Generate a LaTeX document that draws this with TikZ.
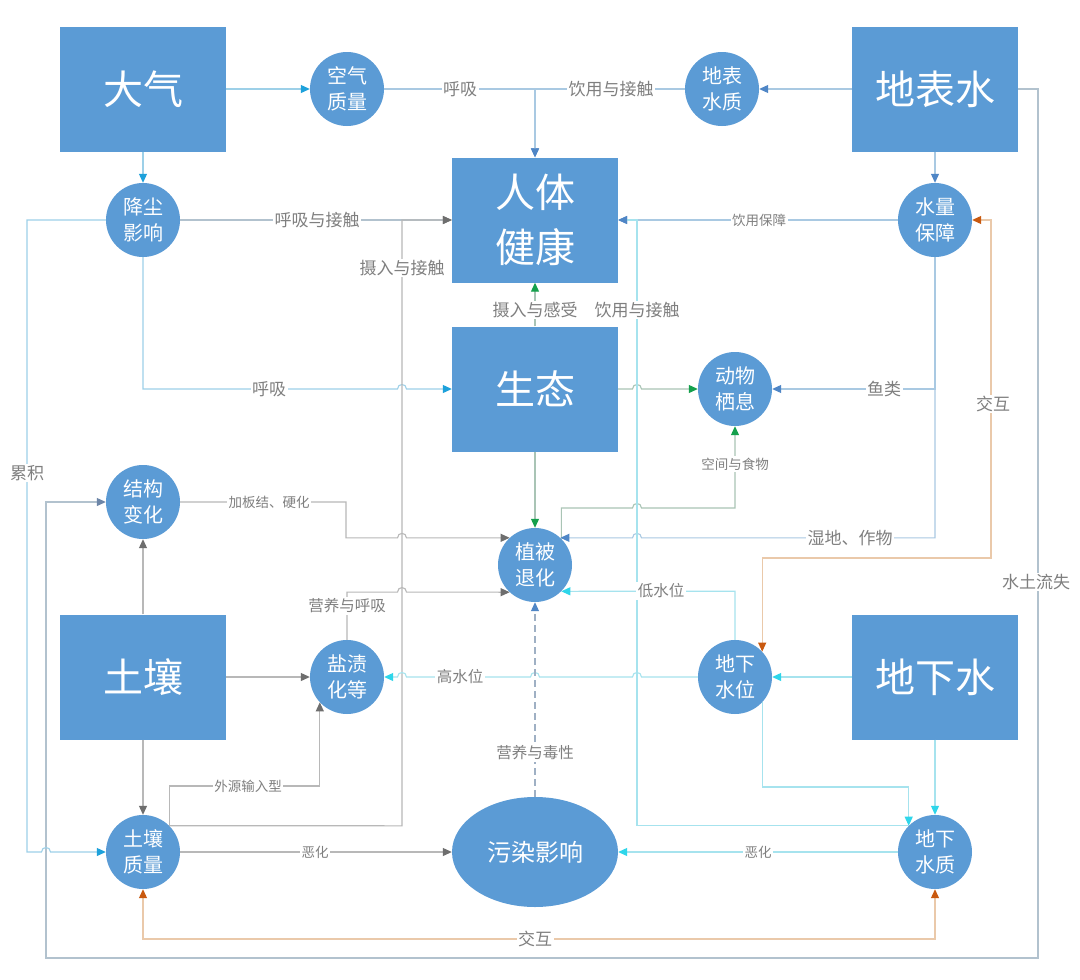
\documentclass[tikz,border=0pt]{standalone}
\usepackage{fontspec}
\setmainfont{Noto Sans CJK SC}
\usetikzlibrary{arrows.meta,shapes.geometric}
\definecolor{nodeblue}{HTML}{5B9BD5}
\definecolor{labgray}{HTML}{7F7F7F}
\definecolor{lnBright}{HTML}{9DD0E8}
\definecolor{lnSteel}{HTML}{A9C9E2}
\definecolor{lnPale}{HTML}{B2C2CE}
\definecolor{lnGray}{HTML}{B8B8B8}
\definecolor{lnGreen}{HTML}{A9C4B5}
\definecolor{lnCyan}{HTML}{A6E3EE}
\definecolor{lnOrange}{HTML}{EAC9AA}
\definecolor{lnDash}{HTML}{9FB0C4}
\definecolor{tipBright}{HTML}{1DA1DB}
\definecolor{tipSteel}{HTML}{4F86C6}
\definecolor{tipGray}{HTML}{6E6E6E}
\definecolor{tipGreen}{HTML}{14A04C}
\definecolor{tipCyan}{HTML}{2ED6EA}
\definecolor{tipOrange}{HTML}{C9590F}
\definecolor{tipSlate}{HTML}{6D86A8}
\begin{document}
\begin{tikzpicture}[x=1pt,y=-1pt,
  box/.style={rectangle, fill=nodeblue, text=white, minimum width=166pt, minimum height=125pt, inner sep=0pt, align=center, font=\fontsize{40}{55}\selectfont},
  circ/.style={circle, fill=nodeblue, text=white, minimum size=74pt, inner sep=0pt, align=center, font=\fontsize{20}{26}\selectfont},
  lab/.style={fill=white, text=labgray, inner sep=1.5pt, font=\fontsize{17}{20}\selectfont},
  labm/.style={lab, font=\fontsize{15.5}{18}\selectfont},
  labs/.style={lab, font=\fontsize{13.5}{16}\selectfont},
  conn/.style={line width=1.1pt},
  aBright/.style={conn, draw=lnBright, -{Triangle[length=9pt,width=8pt,color=tipBright]}},
  aSteel/.style={conn, draw=lnSteel, -{Triangle[length=9pt,width=8pt,color=tipSteel]}},
  aPale/.style={conn, draw=lnPale, -{Triangle[length=9pt,width=8pt,color=tipGray]}},
  aGray/.style={conn, draw=lnGray, -{Triangle[length=9pt,width=8pt,color=tipGray]}},
  aGreen/.style={conn, draw=lnGreen, -{Triangle[length=9pt,width=8pt,color=tipGreen]}},
  aCyan/.style={conn, draw=lnCyan, -{Triangle[length=9pt,width=8pt,color=tipCyan]}},
  aSlate/.style={conn, draw=lnPale, -{Triangle[length=9pt,width=8pt,color=tipSlate]}},
  aOrange/.style={conn, draw=lnOrange, {Triangle[length=9pt,width=8pt,color=tipOrange]}-{Triangle[length=9pt,width=8pt,color=tipOrange]}},
  hopR/.style 2 args={insert path={-- (#1-4.5,#2) .. controls (#1-4.5,#2-6) and (#1+4.5,#2-6) .. (#1+4.5,#2)}},
  hopL/.style 2 args={insert path={-- (#1+4.5,#2) .. controls (#1+4.5,#2-6) and (#1-4.5,#2-6) .. (#1-4.5,#2)}}
]
\fill[white] (0,0) rectangle (1080,980);
\useasboundingbox (0,0) rectangle (1080,980);

% ---------- nodes ----------
\node[box] (dq) at (143,89) {大气};
\node[circ] (kq) at (347,89) {空气\\质量};
\node[circ] (dbsz) at (722,89) {地表\\水质};
\node[box] (dbs) at (935,89) {地表水};
\node[circ] (jc) at (143,220) {降尘\\影响};
\node[box] (rt) at (535,220) {人体\\健康};
\node[circ] (slbz) at (935,220) {水量\\保障};
\node[box] (st) at (535,389) {生态};
\node[circ] (dw) at (735,389) {动物\\栖息};
\node[circ] (jg) at (143,502) {结构\\变化};
\node[circ] (zb) at (535,565) {植被\\退化};
\node[box] (tr) at (143,677) {土壤};
\node[circ] (yz) at (347,677) {盐渍\\化等};
\node[circ] (dxsw) at (735,677) {地下\\水位};
\node[box] (dxs) at (935,677) {地下水};
\node[circ] (trzl) at (143,852) {土壤\\质量};
\node[ellipse, fill=nodeblue, text=white, minimum width=166pt, minimum height=110pt, inner sep=0pt, font=\fontsize{24}{28}\selectfont] (wr) at (535,852) {污染影响};
\node[circ] (dxsz) at (935,852) {地下\\水质};

% ---------- connectors ----------
% outer loop: soil and water loss
\draw[aSlate] (dbs.east) -- (1038,89) -- (1038,958) -- (46,958) -- (46,502) -- (jg.west);
% atmosphere
\draw[aBright] (dq.east) -- (kq.west);
\draw[aBright] (dq.south) -- (jc.north);
\draw[aSteel] (kq.east) -- (535,89) -- (rt.north);
\draw[aSteel] (dbsz.west) -- (535,89) -- (rt.north);
\draw[aSteel] (dbs.west) -- (dbsz.east);
\draw[aSteel] (dbs.south) -- (slbz.north);
\draw[aPale] (jc.east) -- (rt.west);
\draw[aSteel] (slbz.west) -- (rt.east);
\draw[aBright] (jc.south) -- (143,389) [hopR={402}{389}] -- (st.west);
\draw[aBright] (jc.west) -- (27,220) -- (27,852) [hopR={46}{852}] -- (trzl.west);
% soil
\draw[aGray] (trzl.45) -- (402,825.8) -- (402,220) -- (rt.west);
\draw[aGray] (trzl.45) -- (trzl.45 |- 0,786) -| (yz.223);
\draw[aGray] (trzl.east) -- (wr.west);
\draw[aGray] (tr.east) -- (yz.west);
\draw[aGray] (tr.north) -- (jg.south);
\draw[aGray] (tr.south) -- (trzl.north);
\draw[aGray] (jg.east) -- (346,502) -- (346,537.9) [hopR={402}{537.9}] -- (zb.133);
\draw[aGray] (yz.north) -- (347,592.1) [hopR={402}{592.1}] -- (zb.227);
% ecology
\draw[aGreen] (st.north) -- (rt.south);
\draw[aGreen] (st.south) -- (zb.north);
\draw[aGreen] (st.east) [hopR={637}{389}] -- (dw.west);
\draw[aGreen] (zb.45) -- (zb.45 |- 0,508) [hopR={637}{508}] -- (735,508) -- (dw.south);
% surface water quantity
\draw[aSteel] (slbz.south) -- (935,389) -- (dw.east);
\draw[aSteel] (slbz.south) -- (935,537.9) [hopL={637}{537.9}] -- (zb.47);
\draw[aOrange] (slbz.east) -- (991,220) -- (991,558) -| (dxsw.43);
% groundwater
\draw[aCyan] (dxs.west) -- (dxsw.east);
\draw[aCyan] (dxs.south) -- (dxsz.north);
\draw[aCyan] (dxsw.west) [hopL={637}{677}] [hopL={535}{677}] [hopL={402}{677}] -- (yz.east);
\draw[aCyan] (dxsw.north) -- (735,591.2) -- (zb.-45);
\draw[aCyan] (dxsw.-43) -- (dxsw.-43 |- 0,787) -| (dxsz.135);
\draw[conn, draw=lnCyan, -{Triangle[length=9pt,width=8pt,color=tipSteel]}] (dxsz.135) -| (637,220) -- (rt.east);
\draw[aCyan] (dxsz.west) -- (wr.east);
\draw[conn, draw=lnDash, dashed, dash pattern=on 7pt off 4pt, -{Triangle[length=9pt,width=8pt,color=tipSteel]}] (wr.north) -- (zb.south);
\draw[aOrange] (trzl.south) |- (dxsz.south |- 0,939) -- (dxsz.south);

% ---------- labels ----------
\node[lab] (l1) at (460,89) {呼吸};
\node[lab] (l2) at (611,89) {饮用与接触};
\node[lab] (l3) at (317,220) {呼吸与接触};
\node[labs] (l4) at (759,220) {饮用保障};
\node[lab] (l5) at (402,268) {摄入与接触};
\node[lab] (l6) at (535,310) {摄入与感受};
\node[lab] (l7) at (637,310) {饮用与接触};
\node[lab] (l8) at (269,389) {呼吸};
\node[lab] (l9) at (884,389) {鱼类};
\node[lab] (l10) at (993,404) {交互};
\node[lab] (l11) at (27,473) {累积};
\node[labs] (l12) at (735,464) {空间与食物};
\node[labs] (l13) at (269,502) {加板结、硬化};
\node[lab] (l14) at (850,538) {湿地、作物};
\node[lab] (l15) at (1036,582) {水土流失};
\node[labm] (l16) at (661,591) {低水位};
\node[labm] (l17) at (347,606) {营养与呼吸};
\node[labm] (l18) at (460,677) {高水位};
\node[labm] (l19) at (535,753) {营养与毒性};
\node[labs] (l20) at (248,786) {外源输入型};
\node[labs] (l21) at (315,852) {恶化};
\node[labs] (l22) at (758,852) {恶化};
\node[lab] (l23) at (535,939) {交互};
\end{tikzpicture}
\end{document}
